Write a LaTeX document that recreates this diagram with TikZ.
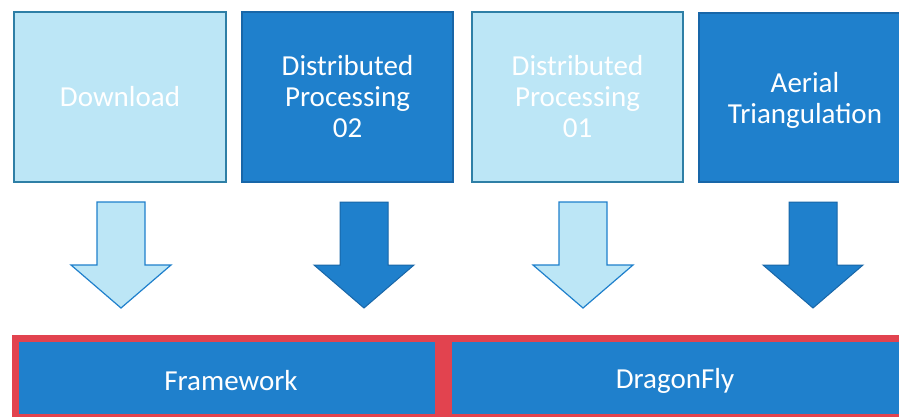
\documentclass[tikz,border=0pt]{standalone}
\usepackage{fontspec}
\setmainfont{Carlito}
\definecolor{darkblue}{HTML}{1F80CC}
\definecolor{darkedge}{HTML}{1866A8}
\definecolor{lightblue}{HTML}{BCE6F6}
\definecolor{lightedge}{HTML}{2E7FA6}
\definecolor{frame}{HTML}{E2434F}
\begin{document}
\begin{tikzpicture}[x=1pt,y=-1pt,
  lbl/.style={text=white,font=\fontsize{29}{31}\selectfont,align=center},
  darkbox/.style={draw=darkedge,line width=1.2pt,fill=darkblue},
  lightbox/.style={draw=lightedge,line width=1.2pt,fill=lightblue},
  lightarrow/.style={draw=darkblue,line width=1.2pt,fill=lightblue,line join=miter},
  darkarrow/.style={draw=darkedge,line width=1pt,fill=darkblue,line join=miter}]
\useasboundingbox (0,0) rectangle (899,417);
\fill[white] (0,0) rectangle (899,417);

% top row of stage boxes
\path[lightbox] (14,12) rectangle (226,182);
\path[darkbox]  (242,12) rectangle (453,182);
\path[lightbox] (472,12) rectangle (683,182);
\path[darkbox]  (699,13) rectangle (912,182);
\node[lbl] (s1) at (120,97) {Download};
\node[lbl] (s2) at (347.5,97) {Distributed\\Processing\\02};
\node[lbl] (s3) at (577.5,97) {Distributed\\Processing\\01};
\node[lbl] (s4) at (805,100) {Aerial\\Triangulation};

% block arrows
\newcommand{\blockarrow}[2]{%
  \path[#2] (#1-24,202) -- (#1+24,202) -- (#1+24,265) -- (#1+50,265)
    -- (#1,308) -- (#1-50,265) -- (#1-24,265) -- cycle;}
\blockarrow{121}{lightarrow}
\blockarrow{364}{darkarrow}
\blockarrow{583}{lightarrow}
\blockarrow{813}{darkarrow}

% platform bar
\fill[frame] (12,335) rectangle (912,417);
\fill[darkblue] (19,342) rectangle (435,414);
\fill[darkblue] (452,342) rectangle (912,414);
\node[lbl] (fw) at (231,381) {Framework};
\node[lbl] (df) at (675,381) {DragonFly};
\end{tikzpicture}
\end{document}
